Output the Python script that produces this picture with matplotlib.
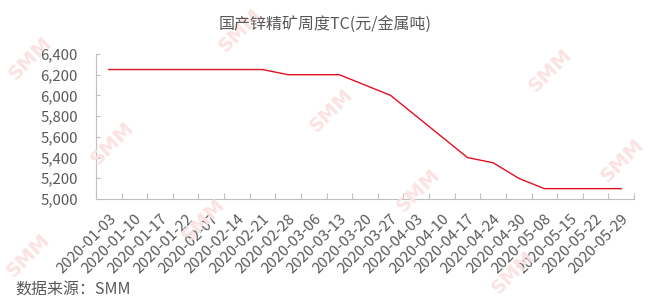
import matplotlib
matplotlib.use("Agg")
import matplotlib.pyplot as plt
from matplotlib.ticker import FuncFormatter, FixedLocator

plt.rcParams['font.family'] = ['Noto Sans CJK SC', 'DejaVu Sans']

# weekly domestic zinc concentrate TC (yuan / metal tonne)
dates = ["2020-01-03", "2020-01-10", "2020-01-17", "2020-01-22", "2020-02-07",
         "2020-02-14", "2020-02-21", "2020-02-28", "2020-03-06", "2020-03-13",
         "2020-03-20", "2020-03-27", "2020-04-03", "2020-04-10", "2020-04-17",
         "2020-04-24", "2020-04-30", "2020-05-08", "2020-05-15", "2020-05-22",
         "2020-05-29"]
tc = [6250, 6250, 6250, 6250, 6250, 6250, 6250, 6200, 6200, 6200,
      6100, 6000, 5800, 5600, 5400, 5350, 5200, 5100, 5100, 5100, 5100]

TITLE = "国产锌精矿周度TC(元/金属吨)"
SOURCE = "数据来源：SMM"
TEXT_COLOR = "#595959"
AXIS_COLOR = "#bfbfbf"

# faint SMM watermarks (figure pixel coords, from top-left)
wm_pos = [(30, 58), (240, 30), (112, 143), (331, 110), (550, 70), (622, 160),
          (418, 190), (203, 220), (28, 255), (513, 272)]

fig = plt.figure(figsize=(6.49, 3.02), dpi=100)
ax = fig.add_axes([96 / 649, 1 - 199 / 302, 538 / 649, 145 / 302])

for px, py in wm_pos:
    fig.text(px / 649, 1 - py / 302, "SMM", fontsize=14, fontweight="bold",
             color="#fbe3e3", rotation=45, ha="center", va="center",
             family="DejaVu Sans", zorder=0)

x = list(range(len(dates)))
ax.plot(x, tc, color="#e3101e", lw=1.0, zorder=3)

ax.set_xlim(-0.5, len(dates) - 0.5)
ax.set_ylim(5000, 6400)
ax.set_yticks(range(5000, 6401, 200))
ax.yaxis.set_major_formatter(FuncFormatter(lambda v, p: f"{int(v):,}"))

# category axis: ticks between categories, labels at centres
ax.xaxis.set_major_locator(FixedLocator([i - 0.5 for i in range(len(dates) + 1)]))
ax.xaxis.set_minor_locator(FixedLocator(x))
ax.set_xticklabels([], minor=False)
ax.set_xticklabels(dates, minor=True, rotation=45, ha="right",
                   rotation_mode="anchor", fontsize=10.8, color=TEXT_COLOR)
ax.tick_params(axis="x", which="major", direction="in", length=4,
               color=AXIS_COLOR, width=0.8)
ax.tick_params(axis="x", which="minor", length=0, pad=9)
ax.tick_params(axis="y", direction="in", length=3, color=AXIS_COLOR,
               width=0.8, labelsize=10.8, labelcolor=TEXT_COLOR, pad=13)

for s in ["top", "right"]:
    ax.spines[s].set_visible(False)
for s in ["left", "bottom"]:
    ax.spines[s].set_color(AXIS_COLOR)
    ax.spines[s].set_linewidth(0.8)
ax.patch.set_alpha(0)

fig.text(325 / 649, 1 - 25 / 302, TITLE, fontsize=11.5, color=TEXT_COLOR,
         ha="center", va="center")
fig.text(15 / 649, 1 - 290 / 302, SOURCE, fontsize=11.5, color=TEXT_COLOR,
         ha="left", va="center")

fig.savefig("out.png", dpi=100)
